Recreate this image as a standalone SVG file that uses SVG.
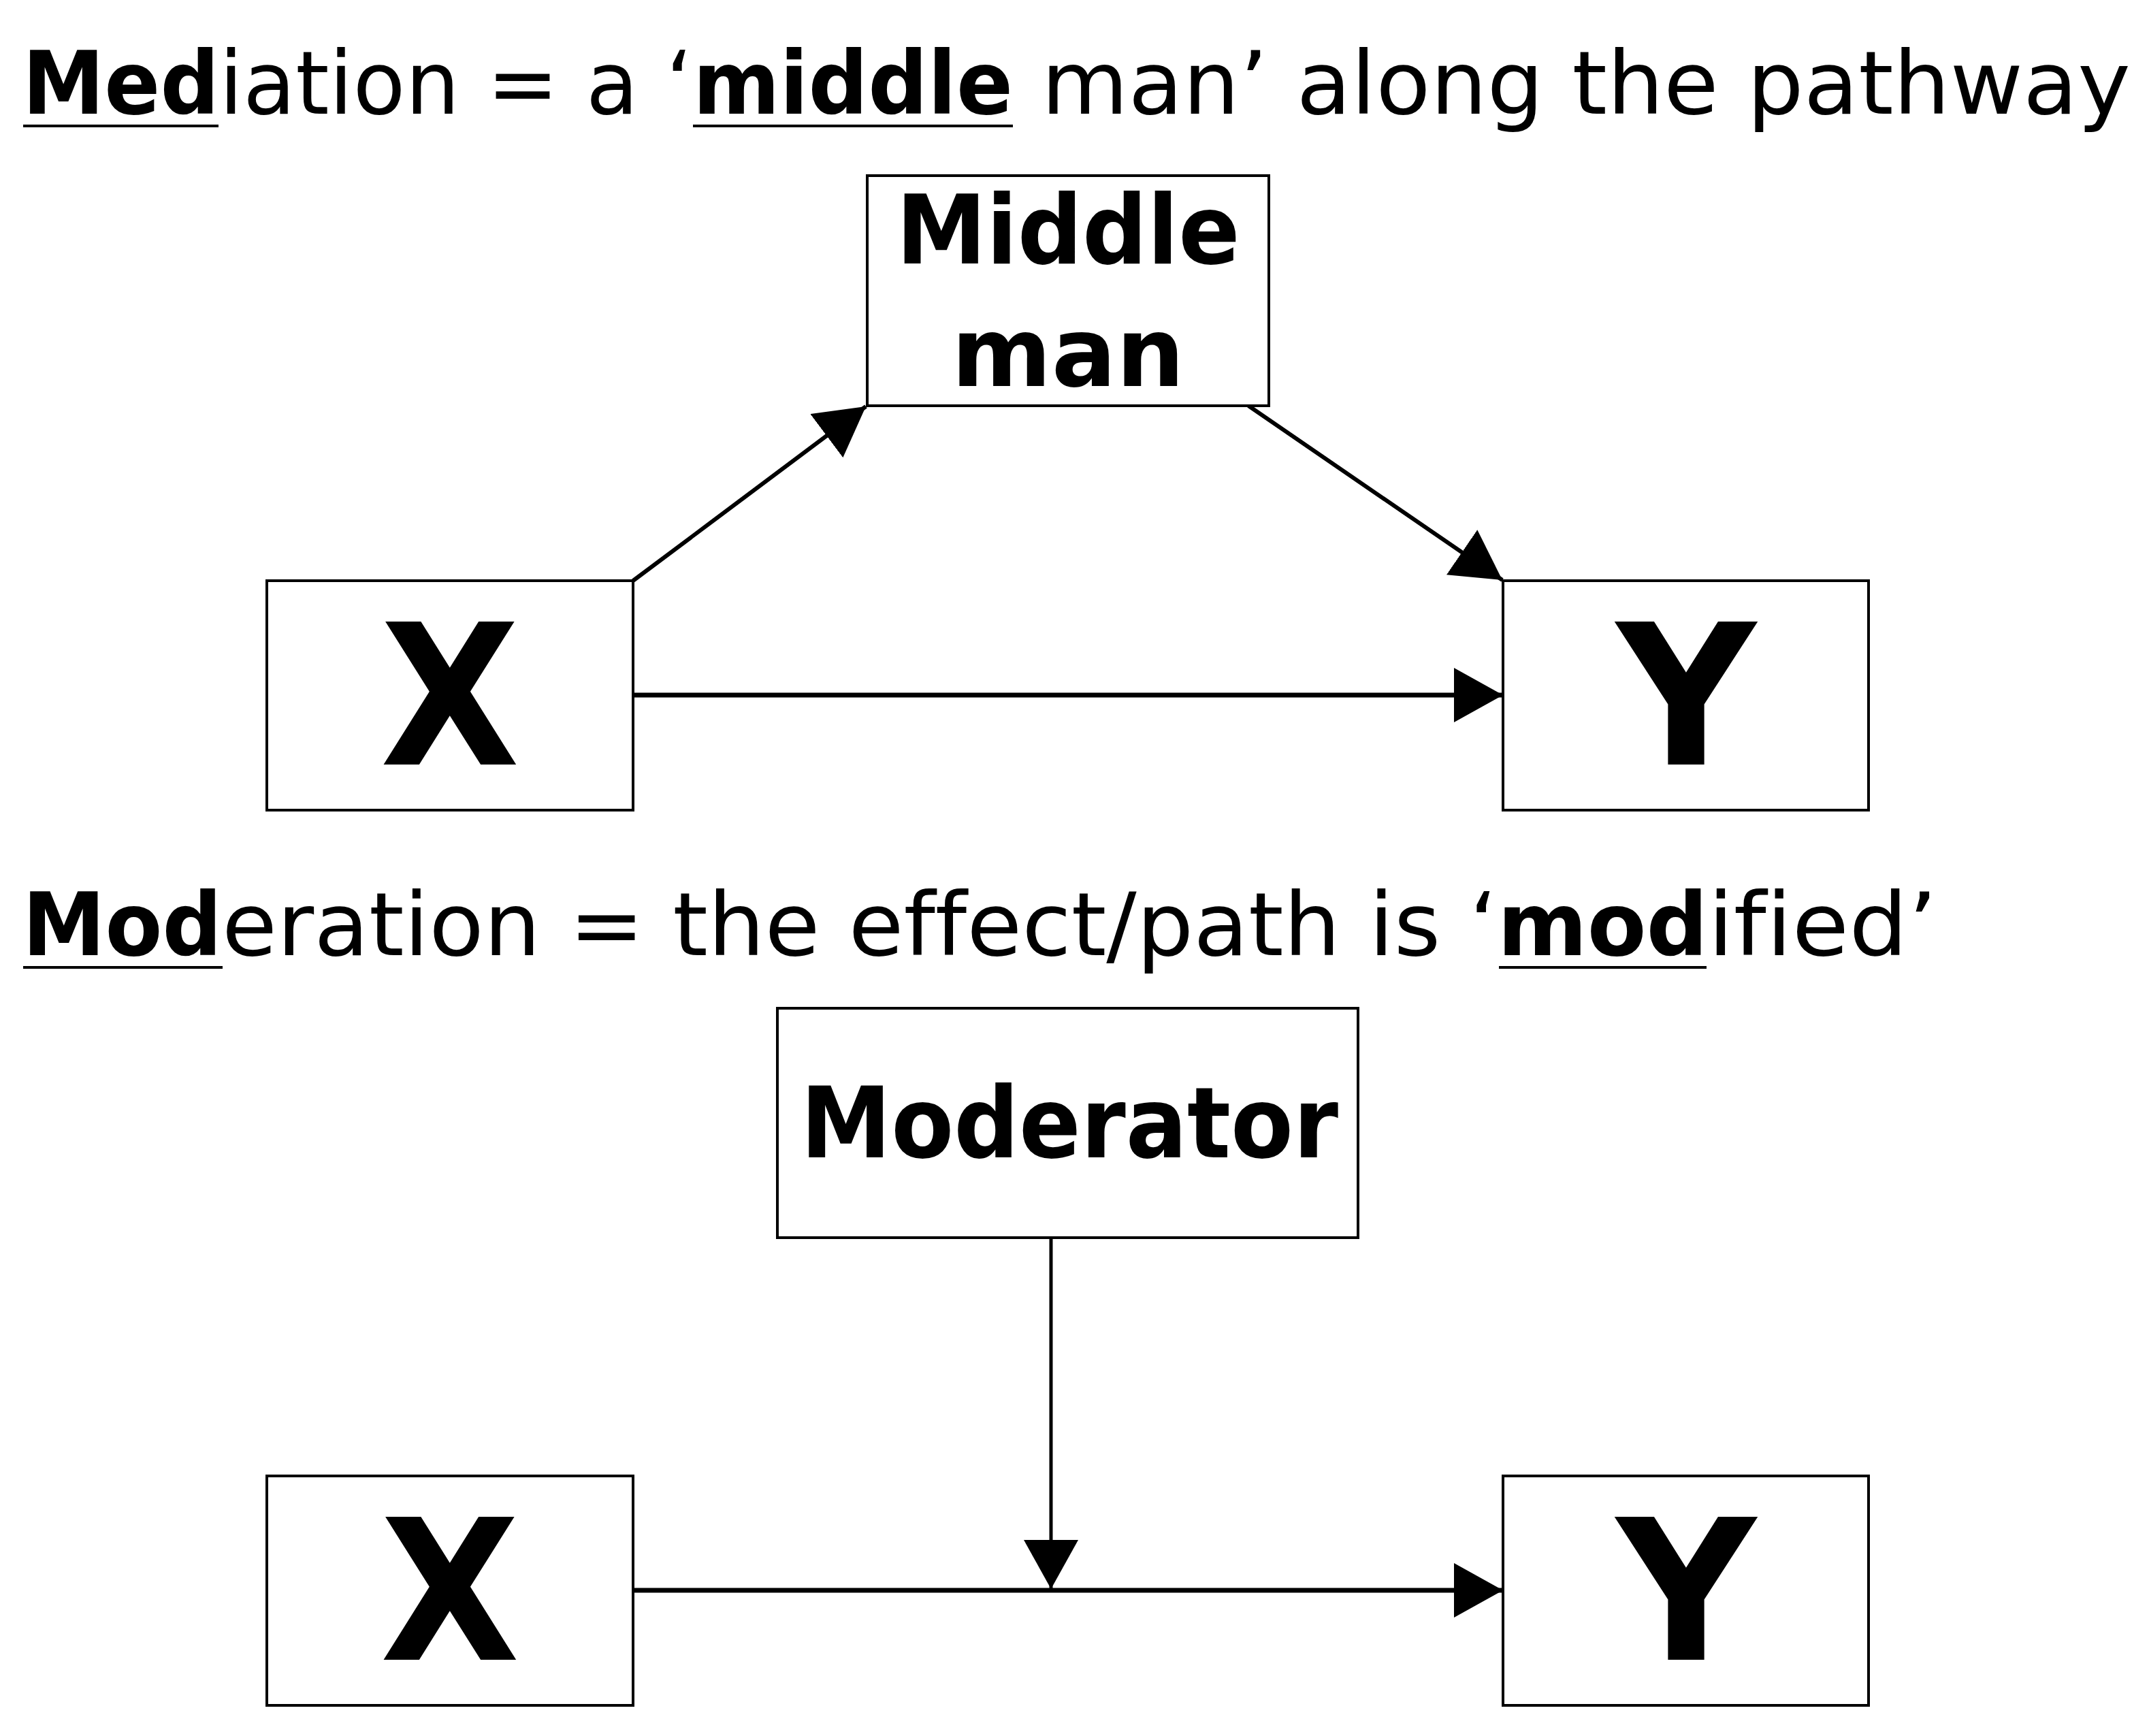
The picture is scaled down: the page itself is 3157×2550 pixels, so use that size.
<svg xmlns="http://www.w3.org/2000/svg" width="3157" height="2550" viewBox="0 0 3157 2550">
<style>
  .title { font-family: "DejaVu Sans", "Liberation Sans", sans-serif; font-size: 128px; fill: #000; font-variant-ligatures: none; }
  .b { font-weight: bold; }
  .node rect { fill: #fff; stroke: #000; stroke-width: 4; }
  .lbl { font-family: "DejaVu Sans", "Liberation Sans", sans-serif; font-weight: bold; fill: #000; text-anchor: middle; }
  .conn line { stroke: #000; }
  .ul { fill: #000; }
</style>
<defs>
  <marker id="ah" markerUnits="userSpaceOnUse" markerWidth="72" markerHeight="80" refX="72" refY="40" orient="auto" viewBox="0 0 72 80">
    <path d="M0,0 L72,40 L0,80 Z" fill="#000"/>
  </marker>
</defs>
<rect x="0" y="0" width="3157" height="2550" fill="#fff"/>

<g id="title-mediation">
  <text class="title" y="167"><tspan class="b" x="33" textLength="289" lengthAdjust="spacingAndGlyphs">Med</tspan><tspan x="322" textLength="696" lengthAdjust="spacingAndGlyphs">iation = a ‘</tspan><tspan class="b" x="1018" textLength="470" lengthAdjust="spacingAndGlyphs">middle</tspan><tspan x="1488" textLength="1642" lengthAdjust="spacingAndGlyphs"> man’ along the pathway</tspan></text>
  <rect class="ul" x="34" y="183" width="287" height="4"/>
  <rect class="ul" x="1018" y="183" width="470" height="4"/>
</g>

<g id="title-moderation">
  <text class="title" y="1403"><tspan class="b" x="33" textLength="293" lengthAdjust="spacingAndGlyphs">Mod</tspan><tspan x="326" textLength="1874" lengthAdjust="spacingAndGlyphs">eration = the effect/path is ‘</tspan><tspan class="b" x="2200" textLength="309" lengthAdjust="spacingAndGlyphs">mod</tspan><tspan x="2509" textLength="337" lengthAdjust="spacingAndGlyphs">ified’</tspan></text>
  <rect class="ul" x="34" y="1419" width="293" height="4"/>
  <rect class="ul" x="2202" y="1419" width="305" height="4"/>
</g>

<g id="connectors" class="conn">
  <line x1="930" y1="853" x2="1272" y2="597" stroke-width="6" marker-end="url(#ah)"/>
  <line x1="1834" y1="596" x2="2207" y2="852" stroke-width="6" marker-end="url(#ah)"/>
  <line x1="930" y1="1021" x2="2208" y2="1021" stroke-width="7" marker-end="url(#ah)"/>
  <line x1="1544" y1="1818" x2="1544" y2="2334" stroke-width="5" marker-end="url(#ah)"/>
  <line x1="930" y1="2336" x2="2208" y2="2336" stroke-width="7" marker-end="url(#ah)"/>
</g>

<g id="node-middleman" class="node">
  <rect x="1274" y="258" width="590" height="338"/>
  <text class="lbl" x="1569" y="387" font-size="141" textLength="505" lengthAdjust="spacingAndGlyphs">Middle</text>
  <text class="lbl" x="1569" y="567" font-size="141">man</text>
</g>
<g id="node-x1" class="node">
  <rect x="392" y="853" width="538" height="337"/>
  <text class="lbl" x="661" y="1123" font-size="288" textLength="205" lengthAdjust="spacingAndGlyphs">X</text>
</g>
<g id="node-y1" class="node">
  <rect x="2208" y="853" width="537" height="337"/>
  <text class="lbl" x="2477" y="1123" font-size="288" textLength="205" lengthAdjust="spacingAndGlyphs">Y</text>
</g>
<g id="node-moderator" class="node">
  <rect x="1142" y="1481" width="853" height="337"/>
  <text class="lbl" x="1571" y="1700" font-size="144" textLength="790" lengthAdjust="spacingAndGlyphs">Moderator</text>
</g>
<g id="node-x2" class="node">
  <rect x="392" y="2168" width="538" height="337"/>
  <text class="lbl" x="661" y="2438" font-size="288" textLength="205" lengthAdjust="spacingAndGlyphs">X</text>
</g>
<g id="node-y2" class="node">
  <rect x="2208" y="2168" width="537" height="337"/>
  <text class="lbl" x="2477" y="2438" font-size="288" textLength="205" lengthAdjust="spacingAndGlyphs">Y</text>
</g>
</svg>
